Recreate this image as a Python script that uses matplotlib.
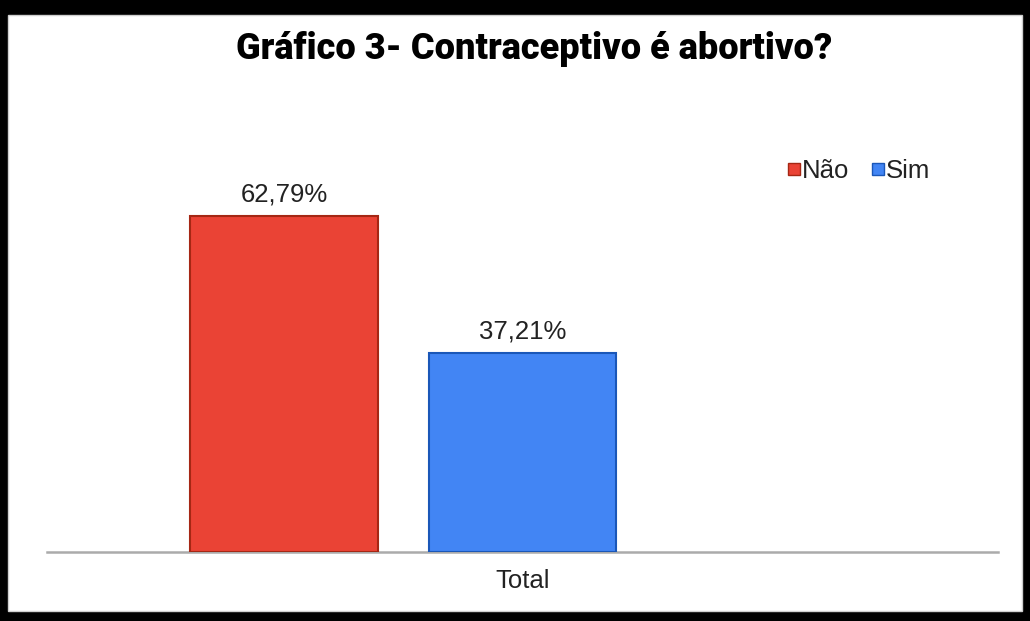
import matplotlib.pyplot as plt
from matplotlib.lines import Line2D
from matplotlib.patches import Rectangle

# data
categories = ["Não", "Sim"]
values = [62.79, 37.21]
value_labels = ["62,79%", "37,21%"]
group_label = "Total"
colors = ["#EA4335", "#4285F4"]
edge_colors = ["#A52714", "#1A57B8"]

W, H = 1030, 621
fig = plt.figure(figsize=(W / 100, H / 100), dpi=100, facecolor="black")

# white inner panel (black frame around it)
fig.patches.append(Rectangle((8 / W, 10 / H), (1022 - 8) / W, (606 - 10) / H,
                             transform=fig.transFigure, facecolor="white",
                             edgecolor="#cfcfcf", lw=1, zorder=-5))

ax = fig.add_axes([47 / W, 69 / H, 951 / W, 428 / H])
ax.set_facecolor("none")
ax.set_zorder(2)

xs = list(range(len(values)))
bars = ax.bar(xs, values, width=0.788, color=colors, edgecolor=edge_colors,
              linewidth=1.5, zorder=3)
for b, lab in zip(bars, value_labels):
    ax.annotate(lab, (b.get_x() + b.get_width() / 2, b.get_height()),
                xytext=(0, 7), textcoords="offset points", ha="center",
                va="bottom", fontsize=18.5, family="Liberation Sans", color="#222222")

ax.set_xlim(-0.994, 2.994)
ax.set_ylim(0, 80)
ax.set_xticks([1])
ax.set_xticklabels([group_label], fontsize=18.5, family="Liberation Sans", color="#222222")
ax.tick_params(axis="x", length=0, pad=12)
ax.set_yticks([])
for s in ["top", "left", "right"]:
    ax.spines[s].set_visible(False)
ax.spines["bottom"].set_color("#ababab")
ax.spines["bottom"].set_linewidth(1.8)
ax.spines["bottom"].set_zorder(2)

fig.text(534 / W, 1 - 49 / H, "Gráfico 3- Contraceptivo é abortivo?",
         ha="center", va="center", fontsize=26, fontweight="heavy",
         family="Roboto", color="black")

handles = [Line2D([], [], marker="s", linestyle="none", markersize=8,
                  markerfacecolor=c, markeredgecolor=e, markeredgewidth=1)
           for c, e in zip(colors, edge_colors)]
fig.legend(handles, categories, loc="center left",
           bbox_to_anchor=(788 / W, 1 - 171 / H), ncol=2, frameon=False,
           prop={"family": "Liberation Sans", "size": 18.5},
           handletextpad=0.05, columnspacing=0.85, handlelength=0.5,
           borderpad=0, borderaxespad=0, labelcolor="#222222")

fig.savefig("out.png", dpi=100, facecolor=fig.get_facecolor())
